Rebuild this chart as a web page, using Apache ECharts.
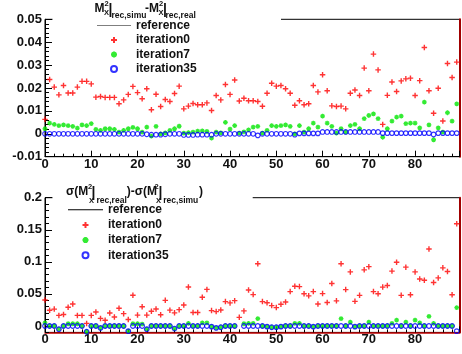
<!DOCTYPE html>
<html>
<head>
<meta charset="utf-8">
<script src="https://cdn.jsdelivr.net/npm/echarts@6/dist/echarts.min.js"></script>
<style>
  html, body { margin: 0; padding: 0; background: #fff; }
  #chart { width: 462px; height: 354px; }
</style>
</head>
<body>
<div id="chart"></div>
<script>
// bin numbers along x
const bins = [0,1,2,3,4,5,6,7,8,9,10,11,12,13,14,15,16,17,18,19,20,21,22,23,24,25,26,27,28,29,
  30,31,32,33,34,35,36,37,38,39,40,41,42,43,44,45,46,47,48,49,50,51,52,53,54,55,56,57,58,59,
  60,61,62,63,64,65,66,67,68,69,70,71,72,73,74,75,76,77,78,79,80,81,82,83,84,85,86,87,88,89];

// upper pad: M2x|rec,simu - M2x|rec,real
const topIter0 = [0.0063,0.0237,0.0204,0.0170,0.0211,0.0178,0.0178,0.0204,0.0229,0.0229,
  0.0218,0.0160,0.0163,0.0159,0.0159,0.0159,0.0131,0.0148,0.0172,0.0207,
  0.0180,0.0153,0.0197,0.0105,0.0173,0.0119,0.0150,0.0141,0.0176,0.0208,
  0.0109,0.0121,0.0132,0.0127,0.0127,0.0135,0.0102,0.0167,0.0148,0.0215,
  0.0172,0.0235,0.0143,0.0155,0.0144,0.0144,0.0141,0.0120,0.0177,0.0221,
  0.0208,0.0211,0.0197,0.0177,0.0125,0.0144,0.0127,0.0131,0.0211,0.0183,
  0.0258,0.0188,0.0122,0.0119,0.0121,0.0109,0.0177,0.0191,0.0167,0.0287,
  0.0188,0.0348,0.0279,0.0041,0.0168,0.0226,0.0185,0.0231,0.0240,0.0243,
  0.0167,0.0232,0.0377,0.0188,0.0090,0.0199,0.0056,0.0307,0.0246,0.0313];
const topIter7 = [0.0022,0.0047,0.0041,0.0036,0.0039,0.0036,0.0032,0.0025,0.0039,0.0036,
  0.0044,0.0019,0.0015,0.0022,0.0022,0.0019,0.0007,0.0015,0.0022,0.0028,
  0.0022,0.0007,0.0029,-0.0010,0.0032,0.0000,0.0004,0.0015,0.0022,0.0033,
  0.0003,0.0005,0.0007,0.0012,0.0013,0.0010,-0.0019,0.0007,0.0004,0.0050,
  0.0020,0.0036,0.0003,0.0008,0.0017,0.0029,0.0032,0.0003,0.0015,0.0036,
  0.0032,0.0036,0.0039,0.0032,0.0000,0.0036,0.0007,0.0022,0.0047,0.0029,
  0.0077,0.0047,0.0032,0.0003,0.0022,0.0007,0.0036,0.0041,0.0022,0.0066,
  0.0080,0.0087,0.0066,-0.0015,0.0022,0.0055,0.0073,0.0077,0.0044,0.0047,
  0.0047,0.0026,0.0138,0.0039,-0.0026,0.0026,0.0007,0.0092,0.0055,0.0131];
const topIter35 = [0,0,0,0,0,0,0,0,0,0,
  0,0,0,0,0,0,0,0,0,0,
  0,0,-0.0002,-0.0004,-0.0004,-0.0004,-0.0002,0,0,0,
  -0.0005,-0.0005,-0.0005,-0.0004,-0.0004,-0.0004,-0.0004,0,0,0,
  0,0,0,0,0,0,-0.0007,0,0,0,
  0,0,0,0,-0.0004,0.0002,0.0002,0.0002,0.0002,0.0002,
  0.0008,0.0008,0.0008,0.0008,0.0008,0.0008,0.0008,0.0008,0.0008,0.0008,
  0.0008,0.0008,0.0008,0.0003,0.0003,0.0003,0.0003,0.0003,0.0003,0.0003,
  0.0003,0.0003,0.0003,0.0003,-0.0003,0.0003,0.0003,0.0003,0.0003,0.0003];

// lower pad: sigma(M2x|rec,real) - sigma(M2x|rec,simu)
const bottomIter0 = [0.0405,0.0245,0.0263,0.0165,0.0178,0.0292,0.0342,0.0165,0.0165,0.0040,
  0.0165,0.0218,0.0118,0.0089,0.0202,0.0140,0.0276,0.0192,0.0102,0.0480,
  0.0170,0.0300,0.0170,0.0229,0.0265,0.0176,0.0400,0.0247,0.0205,0.0255,
  0.0328,0.0607,0.0210,0.0210,0.0447,0.0570,0.0240,0.0224,0.0250,0.0380,
  0.0360,0.0395,0.0135,0.0235,0.0562,0.0489,0.0970,0.0380,0.0363,0.0318,
  0.0287,0.0340,0.0373,0.0536,0.0620,0.0614,0.0502,0.0470,0.0536,0.0342,
  0.0505,0.0365,0.0662,0.0392,0.0970,0.0567,0.0843,0.0384,0.0478,0.0875,
  0.0925,0.0536,0.0502,0.0606,0.0632,0.0856,0.0993,0.0478,0.0917,0.0488,
  0.0843,0.0732,0.0712,0.1200,0.0677,0.0750,0.0906,0.0850,0.0488,0.1595];
const bottomIter7 = [0.0050,0,0,-0.0050,0,0.0035,0.0035,0.0035,0,-0.0090,
  0,0,-0.0030,0,0,0,0,0,-0.0080,0.0035,
  0.0035,0.0030,-0.0050,0,0,0,0,0,-0.0040,0,
  0,0.0040,0,0,0.0050,0.0050,-0.0010,-0.0030,-0.0020,0,
  0,0,null,0.0035,0.0040,0.0040,0.0115,0,-0.0010,-0.0020,
  -0.0020,-0.0010,0,0,0.0040,0.0040,0,0,-0.0010,0,
  0,0,0,0,0.0115,0,0.0060,-0.0010,0,0,
  0.0060,0,0,0,0,0.0040,0.0090,0,0.0060,0,
  0.0090,0.0050,0,0.0150,0.0040,0,0,0,0,0.0285];
const bottomIter35 = [0,0,0,-0.0050,0,0,0,0,0,-0.0090,
  0,0,-0.0030,0,0,0,0,0,-0.0080,0,
  0,0,-0.0050,0,0,0,0,0,-0.0040,0,
  0,0,0,0,0,0,-0.0010,-0.0030,-0.0020,0,
  0,0,null,0,0,0,0,0,-0.0010,-0.0020,
  -0.0020,-0.0010,0,0,0,0,0,0,-0.0010,0,
  0,0,0,0,0,0,0,-0.0010,0,0,
  0,0,0,0,0,0,0,0,0,0,
  0,0,0,0,0,0,0,0,0,-0.0080];

const bottomYLabels = [0, 0.05, 0.1, 0.15, 0.2];
const legendNames = ['reference', 'iteration0', 'iteration7', 'iteration35'];

const FONT = 'Liberation Sans';
const plusSymbol = 'path://M5 0L5 10M0 5L10 5';
const starSymbol = 'path://M5 0L5 10M0 5L10 5M1.5 1.5L8.5 8.5M8.5 1.5L1.5 8.5';
const dashIcon = 'path://M0 0L40 0L40 1L0 1Z';

function pairs(values) {
  return values.map((v, i) => [bins[i], v]);
}

function fmt(v) {
  return String(Math.round(v * 1000) / 1000);
}

function xAxisFor(gridIndex, lineColor, lineWidth) {
  return {
    type: 'value', gridIndex: gridIndex, position: 'bottom',
    min: 0, max: 89.6, interval: 10,
    axisLine: { show: true, onZero: false, lineStyle: { color: lineColor, width: lineWidth } },
    axisTick: { show: true, inside: true, length: 6, lineStyle: { color: '#000' } },
    minorTick: { show: true, splitNumber: 5, length: 3, lineStyle: { color: '#000' } },
    axisLabel: { margin: 1, showMaxLabel: false, color: '#111', fontFamily: FONT, fontWeight: 'bold', fontSize: 13 },
    splitLine: { show: false }
  };
}

function rightEdge(gridIndex, min, max) {
  return {
    type: 'value', gridIndex: gridIndex, position: 'right', min: min, max: max,
    axisLine: { show: true, onZero: false, lineStyle: { color: '#a00000', width: 2 } },
    axisTick: { show: false }, axisLabel: { show: false }, splitLine: { show: false }
  };
}

function panelSeries(prefix, xi, yi, refColor, refWidth, d0, d7, d35) {
  return [
    {
      name: prefix + ':reference', type: 'line', xAxisIndex: xi, yAxisIndex: yi,
      symbol: 'none', data: [],
      lineStyle: { color: refColor, width: refWidth }, itemStyle: { color: refColor }
    },
    {
      name: prefix + ':iteration0', type: 'scatter', xAxisIndex: xi, yAxisIndex: yi,
      symbol: plusSymbol, symbolSize: 5.5, data: pairs(d0),
      itemStyle: { color: 'transparent', borderColor: '#ff0000', borderWidth: 1.4 }
    },
    {
      name: prefix + ':iteration7', type: 'scatter', xAxisIndex: xi, yAxisIndex: yi,
      symbol: starSymbol, symbolSize: 4.8, data: pairs(d7),
      itemStyle: { color: 'transparent', borderColor: '#00e600', borderWidth: 1.3 }
    },
    {
      name: prefix + ':iteration35', type: 'scatter', xAxisIndex: xi, yAxisIndex: yi,
      symbol: 'circle', symbolSize: 4.6, data: pairs(d35),
      itemStyle: { color: 'transparent', borderColor: '#0000ff', borderWidth: 1.2 }
    }
  ];
}

function legendFor(prefix, left, top, itemWidth, gap, refColor, refWidth) {
  return {
    data: legendNames.map(n => n === 'reference'
      ? {
          name: prefix + ':' + n, icon: dashIcon,
          itemStyle: { color: refColor },
          lineStyle: { color: refColor, width: refWidth }
        }
      : prefix + ':' + n),
    formatter: name => name.split(':')[1],
    orient: 'vertical', left: left, top: top, z: 20,
    itemWidth: itemWidth, itemHeight: 6, itemGap: gap,
    selectedMode: false, padding: 0,
    textStyle: { color: '#111', fontFamily: FONT, fontWeight: 'bold', fontSize: 12, lineHeight: 12 }
  };
}

// header pieces of the legend titles (ROOT latex)
const mainFont = 'bold 12px "' + FONT + '"';
const subFont = 'bold 8.5px "' + FONT + '"';
const supFont = 'bold 7.5px "' + FONT + '"';
const barFont = 'bold 14px "' + FONT + '"';
const headerPieces = [
  ['M', 94.5, 8.7, mainFont], ['2', 104.5, 4, supFont], ['X', 104, 12.5, supFont],
  ['|', 108.5, 10.3, barFont], ['rec,simu', 111.5, 15.5, subFont],
  ['-M', 145, 8.7, mainFont], ['2', 159, 4, supFont], ['X', 158.5, 12.5, supFont],
  ['|', 163, 10.3, barFont], ['rec,real', 165.5, 15.5, subFont],
  ['σ(M', 66, 191.5, mainFont], ['2', 88, 187, supFont], ['|', 91.5, 193, barFont],
  ['X', 89, 200.5, supFont], ['rec,real', 96.5, 200.3, subFont],
  [')-σ(M', 126.7, 191.5, mainFont], ['2', 154.5, 187, supFont], ['|', 158.5, 193, barFont],
  ['X', 156, 200.5, supFont], ['rec,simu', 163.3, 200.3, subFont],
  [')', 199, 191.5, mainFont]
];

const chart = echarts.init(document.getElementById('chart'), null, { renderer: 'canvas' });

const option = {
  animation: false,
  backgroundColor: '#fff',
  grid: [
    { left: 45, right: 2.5, top: 19.3, height: 137.4, show: true, borderColor: '#000', borderWidth: 1 },
    { left: 45, right: 2.5, top: 197.7, height: 134.7, show: true, borderColor: '#000', borderWidth: 1 }
  ],
  xAxis: [xAxisFor(0, '#000', 1), xAxisFor(1, '#c00000', 1.5)],
  yAxis: [
    {
      type: 'value', gridIndex: 0, position: 'left', min: -0.01, max: 0.05, interval: 0.01,
      axisLine: { show: true, onZero: false, lineStyle: { color: '#000' } },
      axisTick: { show: true, inside: true, length: 7, lineStyle: { color: '#000' } },
      minorTick: { show: true, splitNumber: 5, length: 4, lineStyle: { color: '#000' } },
      axisLabel: { margin: 3, formatter: fmt, color: '#111', fontFamily: FONT, fontWeight: 'bold', fontSize: 13 },
      splitLine: { show: false }
    },
    rightEdge(0, -0.01, 0.05),
    {
      type: 'value', gridIndex: 1, position: 'left', min: -0.01, max: 0.2, interval: 0.01,
      axisLine: { show: true, onZero: false, lineStyle: { color: '#000' } },
      axisTick: { show: true, inside: true, length: 4, lineStyle: { color: '#000' } },
      axisLabel: {
        margin: 3, color: '#111', fontFamily: FONT, fontWeight: 'bold', fontSize: 13,
        customValues: bottomYLabels, formatter: fmt
      },
      splitLine: { show: false }
    },
    {
      type: 'value', gridIndex: 1, position: 'left', min: -0.01, max: 0.2,
      axisLine: { show: false },
      axisTick: { show: true, inside: true, length: 7, customValues: bottomYLabels, lineStyle: { color: '#000' } },
      axisLabel: { show: false },
      splitLine: { show: false }
    },
    rightEdge(1, -0.01, 0.2)
  ],
  legend: [
    legendFor('top', 97, 19.5, 34, 2.5, '#7f7f7f', 2),
    legendFor('bottom', 68, 203.7, 35, 3.2, '#000', 1.5)
  ],
  graphic: {
    elements: [
      { type: 'rect', z: 10, shape: { x: 52.5, y: 0, width: 228.5, height: 77 }, style: { fill: '#fff' } },
      { type: 'rect', z: 10, shape: { x: 52.5, y: 177, width: 200.2, height: 85 }, style: { fill: '#fff' } }
    ].concat(headerPieces.map(p => ({
      type: 'text', z: 20, x: p[1], y: p[2],
      style: { text: p[0], font: p[3], fill: '#111', verticalAlign: 'middle', align: 'left' }
    })))
  },
  series: []
    .concat(panelSeries('top', 0, 0, '#7f7f7f', 2, topIter0, topIter7, topIter35))
    .concat(panelSeries('bottom', 1, 2, '#000', 1.5, bottomIter0, bottomIter7, bottomIter35))
};

chart.setOption(option);
</script>
</body>
</html>
